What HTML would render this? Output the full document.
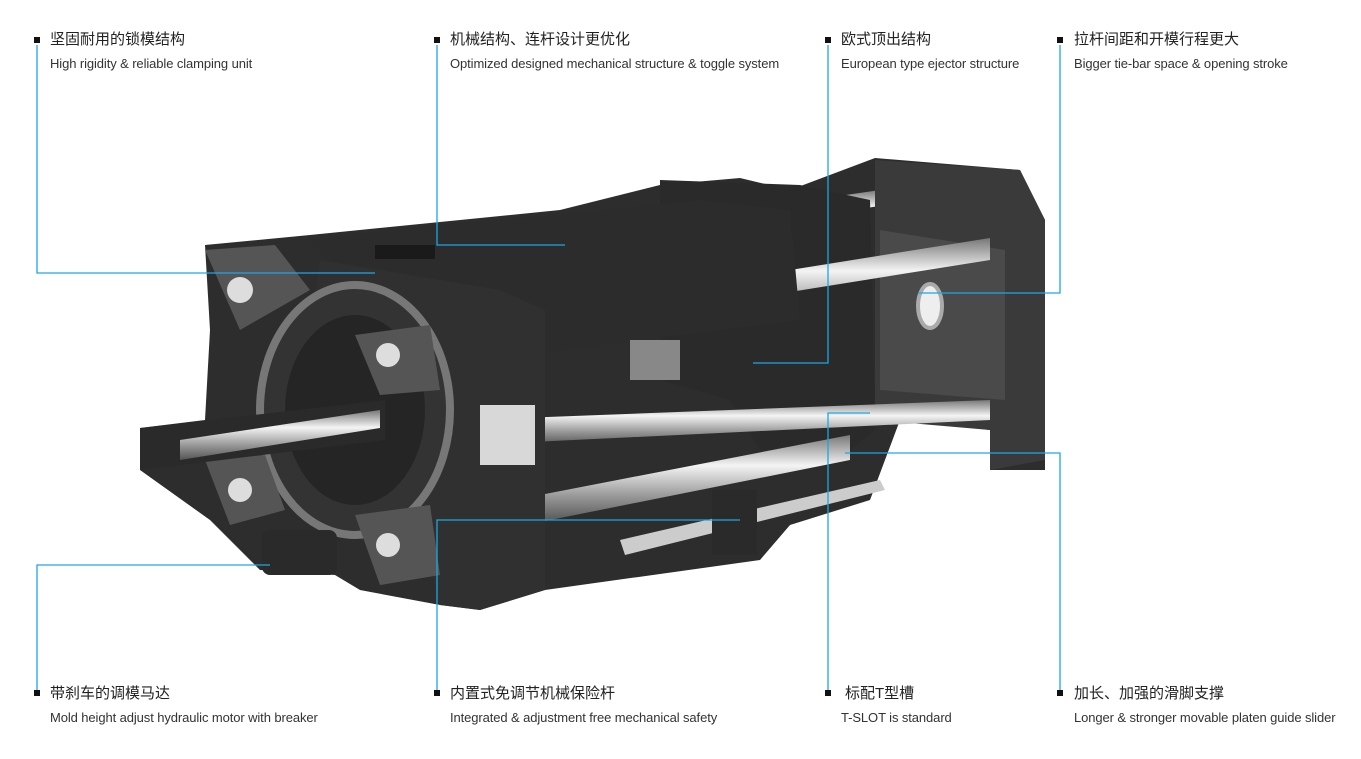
<!DOCTYPE html>
<html><head><meta charset="utf-8"><style>
body{margin:0;width:1361px;height:759px;background:#fff;position:relative;overflow:hidden;font-family:"Liberation Sans","Noto Sans CJK SC",sans-serif;color:#222}
.l{position:absolute;white-space:nowrap}
.cn{font-size:15px;line-height:18px;color:#222}
.en{font-size:13px;line-height:16px;color:#333;margin-top:7px;letter-spacing:-0.1px}
.b{position:absolute;width:6px;height:6px;background:#111}
svg{position:absolute;left:0;top:0}
</style></head><body>
<svg width="1361" height="759">
<defs>
<linearGradient id="rod" x1="0" y1="0" x2="0" y2="1"><stop offset="0" stop-color="#777"/><stop offset=".35" stop-color="#f4f4f4"/><stop offset=".7" stop-color="#999"/><stop offset="1" stop-color="#555"/></linearGradient>
</defs>
<g>
<!-- base silhouette -->
<polygon points="205,245 310,235 560,210 660,185 740,178 790,190 875,158 1020,170 1045,220 1045,470 990,470 990,430 900,420 870,500 790,525 760,560 545,590 480,610 440,605 360,590 335,575 260,570 210,520 140,470 140,428 205,420 210,330" fill="#2d2d2d"/>
<!-- rear tie bars -->
<polygon points="640,225 880,190 880,206 640,240" fill="url(#rod)"/>
<!-- right platen -->
<polygon points="875,160 1020,170 1045,220 1045,460 990,470 990,430 875,420" fill="#3a3a3a"/>
<polygon points="880,230 1005,250 1005,400 880,390" fill="#4a4a4a"/>
<ellipse cx="930" cy="306" rx="12" ry="22" fill="#eee" stroke="#aaa" stroke-width="4"/>
<!-- middle platen -->
<polygon points="660,180 800,185 870,200 875,430 850,450 760,450 730,400 660,380" fill="#2a2a2a"/>
<!-- main rods -->
<polygon points="540,310 990,238 990,260 540,332" fill="url(#rod)"/>
<polygon points="470,420 990,400 990,420 470,445" fill="url(#rod)"/>
<polygon points="540,495 850,435 850,460 540,522" fill="url(#rod)"/>
<!-- toggle body -->
<polygon points="310,240 440,225 560,215 700,200 790,210 800,320 560,350 440,360 360,300" fill="#2c2c2c"/>
<rect x="375" y="245" width="60" height="14" fill="#1a1a1a"/>
<!-- rear platen -->
<polygon points="320,260 500,290 545,310 545,590 480,610 440,605 420,520 330,500 300,400" fill="#303030"/>
<rect x="480" y="405" width="55" height="60" fill="#d8d8d8"/>
<!-- gear ring -->
<ellipse cx="355" cy="410" rx="95" ry="125" fill="#333" stroke="#777" stroke-width="8"/>
<ellipse cx="355" cy="410" rx="70" ry="95" fill="#252525"/>
<!-- plates -->
<polygon points="205,250 275,245 310,290 240,330" fill="#555"/>
<polygon points="355,335 430,325 440,390 380,395" fill="#555"/>
<polygon points="355,515 430,505 440,575 380,585" fill="#555"/>
<polygon points="205,460 265,455 285,510 230,525" fill="#555"/>
<circle cx="240" cy="290" r="13" fill="#ddd"/><circle cx="388" cy="355" r="12" fill="#ddd"/><circle cx="388" cy="545" r="12" fill="#ddd"/><circle cx="240" cy="490" r="12" fill="#ddd"/>
<!-- left cylinder -->
<polygon points="140,428 385,400 385,440 140,470" fill="#2a2a2a"/>
<polygon points="180,440 380,410 380,428 180,460" fill="url(#rod)"/>
<!-- motor -->
<rect x="262" y="530" width="75" height="45" rx="8" fill="#2a2a2a"/>
<!-- bottom screw -->
<polygon points="620,540 880,480 885,490 625,555" fill="#ccc"/>
<rect x="712" y="490" width="45" height="65" fill="#2a2a2a"/>
<rect x="630" y="340" width="50" height="40" fill="#888"/>
</g>
<g stroke="#1da6e3" stroke-width="1.3" fill="none">
<polyline points="37,45 37,273 375,273"/>
<polyline points="437,45 437,245 565,245"/>
<polyline points="828,45 828,363 753,363"/>
<polyline points="1060,45 1060,293 918,293"/>
<polyline points="37,690 37,565 270,565"/>
<polyline points="437,690 437,520 740,520"/>
<polyline points="828,690 828,413 870,413"/>
<polyline points="1060,690 1060,453 845,453"/>
</g>
</svg>
<div class="b" style="left:34px;top:37px"></div>
<div class="l" style="left:50px;top:31px"><div class="cn">坚固耐用的锁模结构</div><div class="en">High rigidity &amp; reliable clamping unit</div></div>
<div class="b" style="left:434px;top:37px"></div>
<div class="l" style="left:450px;top:31px"><div class="cn">机械结构、连杆设计更优化</div><div class="en">Optimized designed mechanical structure &amp; toggle system</div></div>
<div class="b" style="left:825px;top:37px"></div>
<div class="l" style="left:841px;top:31px"><div class="cn">欧式顶出结构</div><div class="en">European type ejector structure</div></div>
<div class="b" style="left:1057px;top:37px"></div>
<div class="l" style="left:1074px;top:31px"><div class="cn">拉杆间距和开模行程更大</div><div class="en">Bigger tie-bar space &amp; opening stroke</div></div>
<div class="b" style="left:34px;top:690px"></div>
<div class="l" style="left:50px;top:685px"><div class="cn">带刹车的调模马达</div><div class="en">Mold height adjust hydraulic motor with breaker</div></div>
<div class="b" style="left:434px;top:690px"></div>
<div class="l" style="left:450px;top:685px"><div class="cn">内置式免调节机械保险杆</div><div class="en">Integrated &amp; adjustment free mechanical safety</div></div>
<div class="b" style="left:825px;top:690px"></div>
<div class="l" style="left:845px;top:685px"><div class="cn">标配T型槽</div><div class="en" style="margin-left:-4px">T-SLOT is standard</div></div>
<div class="b" style="left:1057px;top:690px"></div>
<div class="l" style="left:1074px;top:685px"><div class="cn">加长、加强的滑脚支撑</div><div class="en">Longer &amp; stronger movable platen guide slider</div></div>
</body></html>
